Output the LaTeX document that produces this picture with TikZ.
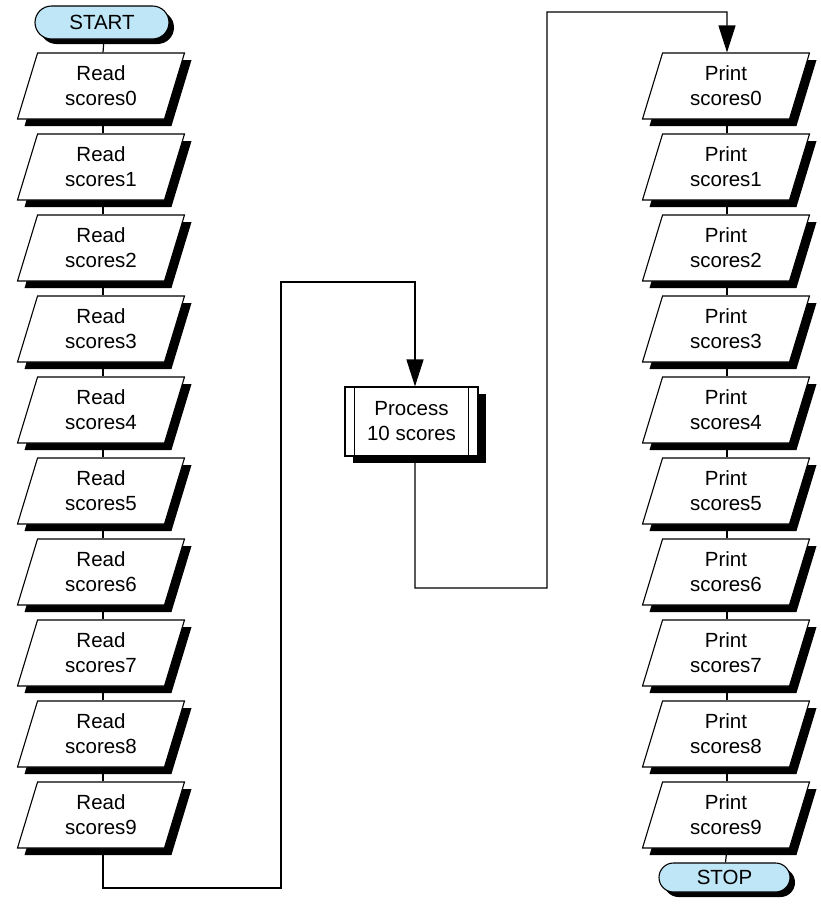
\documentclass[tikz,border=0pt]{standalone}
\usepackage{fontspec}
\setmainfont{Liberation Sans}
\usetikzlibrary{shapes.geometric,shapes.misc,shadows,arrows.meta}
\definecolor{pillblue}{HTML}{BFE6F7}
\begin{document}
\begin{tikzpicture}[x=1pt,y=-1pt,
  txt/.style={font=\fontsize{20.5}{25}\selectfont, align=center},
  io/.style={txt, trapezium, trapezium left angle=63.4, trapezium right angle=116.6,
    trapezium stretches body, minimum width=167pt, minimum height=66pt, inner sep=0pt,
    draw, line width=1.1pt, fill=white,
    drop shadow={shadow xshift=7pt, shadow yshift=-7pt, fill=black, opacity=1}},
  term/.style={txt, rounded rectangle, draw, line width=1.1pt, fill=pillblue, inner sep=0pt,
    drop shadow={shadow xshift=5pt, shadow yshift=-5pt, fill=black, opacity=1}},
  procbox/.style={txt, rectangle, draw, line width=1.1pt, fill=white, minimum width=133pt,
    minimum height=69pt, inner sep=0pt,
    drop shadow={shadow xshift=8pt, shadow yshift=-7pt, fill=black, opacity=1}},
  conn/.style={line width=1.2pt},
  arr/.style={conn, -{Triangle[length=27pt,width=17pt]}}]
\useasboundingbox (0,0) rectangle (821,906);

\node[term, minimum width=134pt, minimum height=33pt] (start) at (102,22.5) {START};
\foreach \i in {0,...,9} {
  \pgfmathsetmacro{\yy}{86+81*\i}
  \node[io] (r\i) at (101,\yy) {Read\\scores\i};
  \node[io] (p\i) at (726,\yy) {Print\\scores\i};
}
\node[term, minimum width=131pt, minimum height=29pt] (stop) at (724.5,877.5) {STOP};
\node[procbox] (proc) at (411.5,421.5) {Process\\10 scores};
\draw[line width=1.1pt] ([xshift=10pt]proc.north west) -- ([xshift=10pt]proc.south west);
\draw[line width=1.1pt] ([xshift=-10pt]proc.north east) -- ([xshift=-10pt]proc.south east);

\coordinate (c1) at (281,888);
\coordinate (c2) at (415,282);
\coordinate (c3) at (547,588);
\coordinate (c4) at (727,12);

\draw[conn] ([xshift=2pt]start.south) -- ([xshift=2pt]r0.north);
\foreach \i [evaluate=\i as \j using int(\i+1)] in {0,...,8} {
  \draw[conn] ([xshift=2pt]r\i.south) -- ([xshift=2pt]r\j.north);
  \draw[conn] ([xshift=1pt]p\i.south) -- ([xshift=1pt]p\j.north);
}
\draw[conn] ([xshift=1pt]p9.south) -- ([xshift=1pt]stop.north);
\draw[arr] ([xshift=2pt]r9.south) |- (c1) |- (c2) -- ([xshift=3.5pt]proc.north);
\draw[arr] ([xshift=3.5pt]proc.south) |- (c3) |- (c4) -- ([xshift=1pt]p0.north);
\end{tikzpicture}
\end{document}
